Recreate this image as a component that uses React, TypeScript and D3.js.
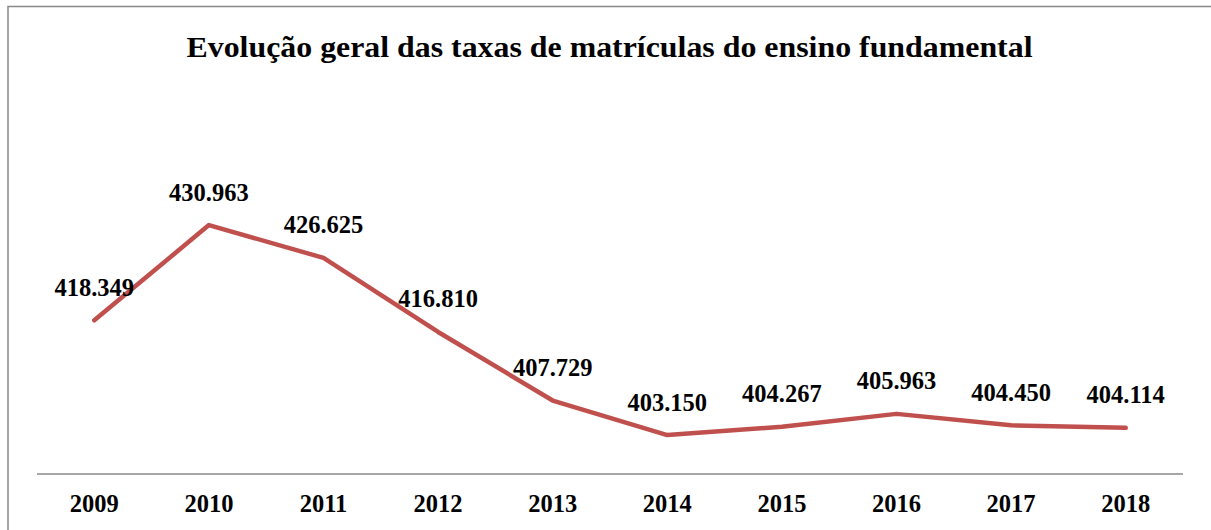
import React from "react";
import * as d3 from "d3";

const years = ["2009", "2010", "2011", "2012", "2013", "2014", "2015", "2016", "2017", "2018"];
const enrollments = [418349, 430963, 426625, 416810, 407729, 403150, 404267, 405963, 404450, 404114];
const title = "Evolução geral das taxas de matrículas do ensino fundamental";

const W = 1211;
const H = 530;

export default function App() {
  const x = d3.scaleBand().domain(years).range([37, 1183]);
  const y = d3.scaleLinear().domain([398000, 435000]).range([474, 194.6]);
  const fmt = (v: number) => d3.format(",")(v).replace(/,/g, ".");
  const cx = (yr: string) => (x(yr) as number) + x.bandwidth() / 2;
  const line = d3
    .line<number>()
    .x((_, i) => cx(years[i]))
    .y((v) => y(v));

  return (
    <svg
      width={W}
      height={H}
      style={{ position: "absolute", left: 0, top: 0, background: "#fff" }}
      fontFamily="'Liberation Serif', 'Times New Roman', serif"
    >
      <rect x={8} y={6.5} width={1300} height={600} fill="#fff" stroke="#898989" strokeWidth={1.5} />
      <text
        x={609.5}
        y={57}
        textAnchor="middle"
        fontWeight="bold"
        fontSize={30}
        textLength={846}
        lengthAdjust="spacingAndGlyphs"
        fill="#000"
      >
        {title}
      </text>
      <line x1={37} x2={1183} y1={474} y2={474} stroke="#898989" strokeWidth={1.5} />
      {years.map((yr) => (
        <text key={yr} x={cx(yr)} y={512} textAnchor="middle" fontWeight="bold" fontSize={24.5} fill="#000">
          {yr}
        </text>
      ))}
      <path
        d={line(enrollments) || ""}
        fill="none"
        stroke="#C0504D"
        strokeWidth={4.5}
        strokeLinecap="round"
        strokeLinejoin="round"
      />
      {enrollments.map((v, i) => (
        <text
          key={i}
          x={cx(years[i])}
          y={y(v) - 24.5}
          textAnchor="middle"
          fontWeight="bold"
          fontSize={24.5}
          fill="#000"
        >
          {fmt(v)}
        </text>
      ))}
    </svg>
  );
}
